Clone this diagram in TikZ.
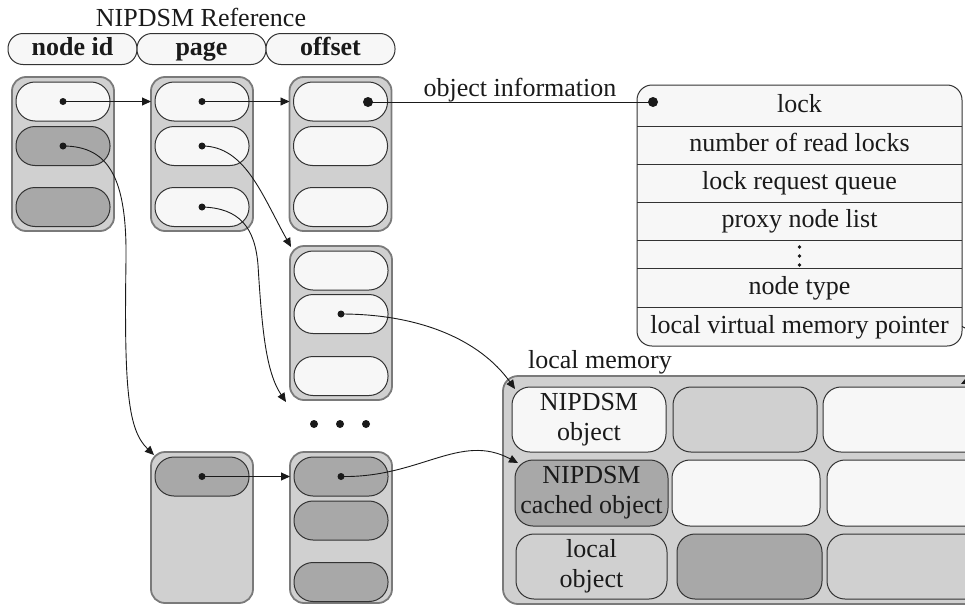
\documentclass[tikz,border=0pt]{standalone}
\usepackage{fontspec}
\setmainfont{Liberation Serif}
\usetikzlibrary{arrows.meta}
\definecolor{lightfill}{HTML}{F7F7F7}
\definecolor{midfill}{HTML}{D0D0D0}
\definecolor{darkfill}{HTML}{A8A8A8}
\definecolor{inkclr}{HTML}{1A1A1A}
\definecolor{edgeclr}{HTML}{333333}
\definecolor{frameclr}{HTML}{7A7A7A}
\begin{document}
\begin{tikzpicture}[x=1pt,y=-1pt,
  every node/.style={inner sep=0pt,outer sep=0pt,font=\fontsize{26}{28}\selectfont,text=inkclr},
  txt/.style={text height=18pt,text depth=5pt},
  hdr/.style={draw=edgeclr,line width=1pt,fill=lightfill,rounded corners=15pt,minimum width=129pt,minimum height=31pt,txt,font=\fontsize{26}{28}\selectfont\bfseries},
  holder/.style={draw=frameclr,line width=1.8pt,fill=midfill,rounded corners=14pt,minimum width=102pt},
  pill/.style={draw=edgeclr,line width=1pt,rounded corners=19pt,minimum width=94pt,minimum height=39pt},
  lpill/.style={pill,fill=lightfill},
  dpill/.style={pill,fill=darkfill},
  pdot/.style={circle,fill=inkclr,minimum size=7pt},
  bigdot/.style={circle,fill=inkclr,minimum size=10pt},
  arr/.style={draw=inkclr,line width=0.9pt,-{Triangle[length=9pt,width=8pt]}},
  wire/.style={draw=inkclr,line width=0.9pt},
  cell/.style={draw=edgeclr,line width=1pt,rounded corners=18pt,minimum height=65pt,align=center,font=\fontsize{26}{30}\selectfont},
  rowbox/.style={minimum width=325pt,txt},
  sep/.style={draw=edgeclr,line width=1pt},
]
\useasboundingbox (0,0) rectangle (965,605);
\clip (0,0) rectangle (965,605);

% title and header
\node[anchor=base] (title) at (201,26) {NIPDSM Reference};
\node[hdr] (hN) at (72.5,49) {node id};
\node[hdr] (hP) at (201.5,49) {page};
\node[hdr] (hO) at (330.5,49) {offset};

% holders
\node[holder,minimum height=154pt] (cN) at (63,154) {};
\node[holder,minimum height=154pt] (cP) at (202,154) {};
\node[holder,minimum height=154pt] (cO) at (340.5,154) {};
\node[holder,minimum height=154pt] (cO2) at (341,323) {};
\node[holder,minimum height=151pt] (cP3) at (202,527.5) {};
\node[holder,minimum height=151pt] (cO3) at (341,527.5) {};

% pills
\node[lpill] (nid1) at (63,101.5) {};
\node[dpill] (nid2) at (63,146) {};
\node[dpill] (nid3) at (63,207) {};
\node[lpill] (pg1) at (202,101.5) {};
\node[lpill] (pg2) at (202,146) {};
\node[lpill] (pg3) at (202,207) {};
\node[lpill] (of1) at (340.5,101.5) {};
\node[lpill] (of2) at (340.5,146) {};
\node[lpill] (of3) at (340.5,207) {};
\node[lpill] (o2a) at (341,270.5) {};
\node[lpill] (o2b) at (341,314) {};
\node[lpill] (o2c) at (341,376) {};
\node[dpill] (p3a) at (202,476.5) {};
\node[dpill] (o3a) at (341,476.5) {};
\node[dpill] (o3b) at (341,520.5) {};
\node[dpill] (o3c) at (341,582) {};

% ellipsis dots
\node[circle,fill=inkclr,minimum size=8pt] (e1) at (314,424) {};
\node[circle,fill=inkclr,minimum size=8pt] (e2) at (340,424) {};
\node[circle,fill=inkclr,minimum size=8pt] (e3) at (366,424) {};

% object information box
\node[draw=edgeclr,line width=1pt,fill=lightfill,rounded corners=15pt,minimum width=325pt,minimum height=261pt] (oi) at (799.5,215.5) {};
\node[rowbox,minimum height=41pt] (r1) at (799.5,105.5) {lock};
\node[rowbox,minimum height=38pt] (r2) at (799.5,145) {number of read locks};
\node[rowbox,minimum height=38pt] (r3) at (799.5,183) {lock request queue};
\node[rowbox,minimum height=38pt] (r4) at (799.5,221) {proxy node list};
\node[minimum width=325pt,minimum height=28pt] (r5) at (799.5,254) {};
\node[rowbox,minimum height=39pt] (r6) at (799.5,287.5) {node type};
\node[rowbox,minimum height=39pt] (r7) at (799.5,326.5) {local virtual memory pointer};
\foreach \n in {r1,r2,r3,r4,r5,r6} \draw[sep] (\n.south west) -- (\n.south east);
\foreach \yy in {247,256,265} \fill[inkclr] (799.5,\yy) circle (1.9pt);
\node[anchor=base] (oilabel) at (520,96) {object information};

% local memory
\node[anchor=base] (lmlabel) at (600,368) {local memory};
\node[holder,minimum width=500pt,minimum height=228pt,rounded corners=15pt] (lm) at (753,490) {};
\node[cell,fill=lightfill,minimum width=154pt] (a1) at (589,419.5) {NIPDSM\\object};
\node[cell,fill=midfill,minimum width=144pt] (a2) at (745,419.5) {};
\node[cell,fill=lightfill,minimum width=172pt] (a3) at (909,419.5) {};
\node[cell,fill=darkfill,minimum width=153pt,minimum height=66pt] (b1) at (591.5,493) {NIPDSM\\cached object};
\node[cell,fill=lightfill,minimum width=148pt,minimum height=66pt] (b2) at (746,493) {};
\node[cell,fill=lightfill,minimum width=168pt,minimum height=66pt] (b3) at (911,493) {};
\node[cell,fill=midfill,minimum width=151pt] (c1) at (591.5,566.5) {local\\object};
\node[cell,fill=darkfill,minimum width=145pt] (c2) at (749.5,566.5) {};
\node[cell,fill=midfill,minimum width=168pt] (c3) at (911,566.5) {};

% dots on pills
\node[pdot] (dN1) at (nid1.center) {};
\node[pdot] (dN2) at (nid2.center) {};
\node[pdot] (dP1) at (pg1.center) {};
\node[pdot] (dP2) at (pg2.center) {};
\node[pdot] (dP3) at (pg3.center) {};
\node[bigdot] (dO1) at (368,102) {};
\node[bigdot] (dOI) at (653,102) {};
\node[pdot] (dO2b) at (o2b.center) {};
\node[pdot] (dP3a) at (p3a.center) {};
\node[pdot] (dO3a) at (o3a.center) {};
\coordinate (gap) at (286,402);
\coordinate (lmtip) at (961,384);

% connectors
\draw[arr] (dN1.center) -- (cP.west |- dN1.center);
\draw[arr] (dP1.center) -- (cO.west |- dP1.center);
\draw[wire] (dO1.center) -- (dOI.center);
\draw[arr] (dN2.center) .. controls (110,146) and (127,180) .. (126,260) .. controls (124,390) and (128,430) .. ([shift={(3,3)}]cP3.north west);
\draw[arr] (dP2.center) .. controls (245,146) and (262,195) .. ([shift={(1,1)}]cO2.north west);
\draw[arr] (dP3.center) .. controls (240,208) and (255,228) .. (258,265) .. controls (262,330) and (266,372) .. (gap);
\draw[arr] (dP3a.center) -- (cO3.west |- dP3a.center);
\draw[arr] (dO2b.center) .. controls (420,314) and (480,340) .. ([shift={(12,13)}]lm.north west);
\draw[arr] (dO3a.center) .. controls (420,478) and (460,432) .. ([shift={(3,3)}]b1.north west);
\draw[arr] (r7.east) .. controls (978,332) and (985,372) .. (lmtip);
\end{tikzpicture}
\end{document}
